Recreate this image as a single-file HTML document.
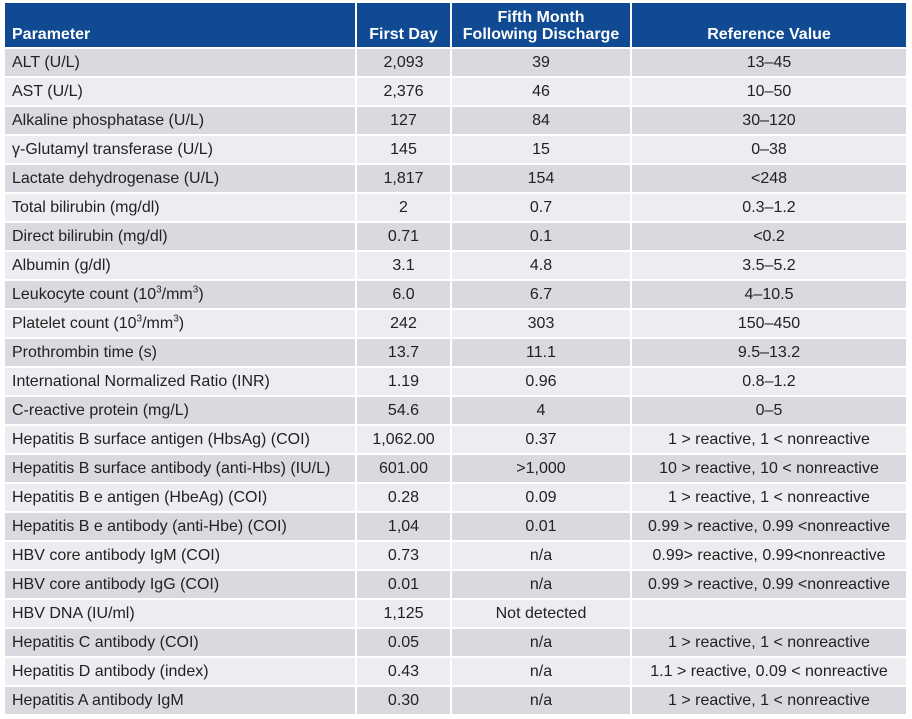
<!DOCTYPE html>
<html><head><meta charset="utf-8"><style>
body{margin:0;background:#fff;width:912px;height:719px;overflow:hidden;font-family:"Liberation Sans",Arial,sans-serif;}
table{position:absolute;left:3px;top:1px;border-collapse:separate;border-spacing:2px;table-layout:fixed;width:905px;}
th{background:#0f4a93;color:#fff;font-weight:bold;font-size:16px;height:40px;padding:0 0 4px 0;vertical-align:bottom;line-height:17px;}
th.p{text-align:left;padding-left:7px;}
td{height:27px;padding:0;font-size:16px;color:#222;text-align:center;line-height:18px;}
td.p{text-align:left;padding-left:7px;}
tr:nth-child(odd) td{background:#d9dadf;}
tr:nth-child(even) td{background:#ecedf0;}
sup{font-size:10px;line-height:0;}
</style></head><body>
<table>
<colgroup><col style="width:350px"><col style="width:93px"><col style="width:178px"><col style="width:274px"></colgroup>
<thead><tr>
<th class="p">Parameter</th>
<th>First Day</th>
<th>Fifth Month<br>Following Discharge</th>
<th>Reference Value</th>
</tr></thead>
<tbody>
<tr><td class="p">ALT (U/L)</td><td>2,093</td><td>39</td><td>13–45</td></tr>
<tr><td class="p">AST (U/L)</td><td>2,376</td><td>46</td><td>10–50</td></tr>
<tr><td class="p">Alkaline phosphatase (U/L)</td><td>127</td><td>84</td><td>30–120</td></tr>
<tr><td class="p">γ-Glutamyl transferase (U/L)</td><td>145</td><td>15</td><td>0–38</td></tr>
<tr><td class="p">Lactate dehydrogenase (U/L)</td><td>1,817</td><td>154</td><td>&lt;248</td></tr>
<tr><td class="p">Total bilirubin (mg/dl)</td><td>2</td><td>0.7</td><td>0.3–1.2</td></tr>
<tr><td class="p">Direct bilirubin (mg/dl)</td><td>0.71</td><td>0.1</td><td>&lt;0.2</td></tr>
<tr><td class="p">Albumin (g/dl)</td><td>3.1</td><td>4.8</td><td>3.5–5.2</td></tr>
<tr><td class="p">Leukocyte count (10<sup>3</sup>/mm<sup>3</sup>)</td><td>6.0</td><td>6.7</td><td>4–10.5</td></tr>
<tr><td class="p">Platelet count (10<sup>3</sup>/mm<sup>3</sup>)</td><td>242</td><td>303</td><td>150–450</td></tr>
<tr><td class="p">Prothrombin time (s)</td><td>13.7</td><td>11.1</td><td>9.5–13.2</td></tr>
<tr><td class="p">International Normalized Ratio (INR)</td><td>1.19</td><td>0.96</td><td>0.8–1.2</td></tr>
<tr><td class="p">C-reactive protein (mg/L)</td><td>54.6</td><td>4</td><td>0–5</td></tr>
<tr><td class="p">Hepatitis B surface antigen (HbsAg) (COI)</td><td>1,062.00</td><td>0.37</td><td>1 &gt; reactive, 1 &lt; nonreactive</td></tr>
<tr><td class="p">Hepatitis B surface antibody (anti-Hbs) (IU/L)</td><td>601.00</td><td>&gt;1,000</td><td>10 &gt; reactive, 10 &lt; nonreactive</td></tr>
<tr><td class="p">Hepatitis B e antigen (HbeAg) (COI)</td><td>0.28</td><td>0.09</td><td>1 &gt; reactive, 1 &lt; nonreactive</td></tr>
<tr><td class="p">Hepatitis B e antibody (anti-Hbe) (COI)</td><td>1,04</td><td>0.01</td><td>0.99 &gt; reactive, 0.99 &lt;nonreactive</td></tr>
<tr><td class="p">HBV core antibody IgM (COI)</td><td>0.73</td><td>n/a</td><td>0.99&gt; reactive, 0.99&lt;nonreactive</td></tr>
<tr><td class="p">HBV core antibody IgG (COI)</td><td>0.01</td><td>n/a</td><td>0.99 &gt; reactive, 0.99 &lt;nonreactive</td></tr>
<tr><td class="p">HBV DNA (IU/ml)</td><td>1,125</td><td>Not detected</td><td></td></tr>
<tr><td class="p">Hepatitis C antibody (COI)</td><td>0.05</td><td>n/a</td><td>1 &gt; reactive, 1 &lt; nonreactive</td></tr>
<tr><td class="p">Hepatitis D antibody (index)</td><td>0.43</td><td>n/a</td><td>1.1 &gt; reactive, 0.09 &lt; nonreactive</td></tr>
<tr><td class="p">Hepatitis A antibody IgM</td><td>0.30</td><td>n/a</td><td>1 &gt; reactive, 1 &lt; nonreactive</td></tr>
</tbody></table>
</body></html>
